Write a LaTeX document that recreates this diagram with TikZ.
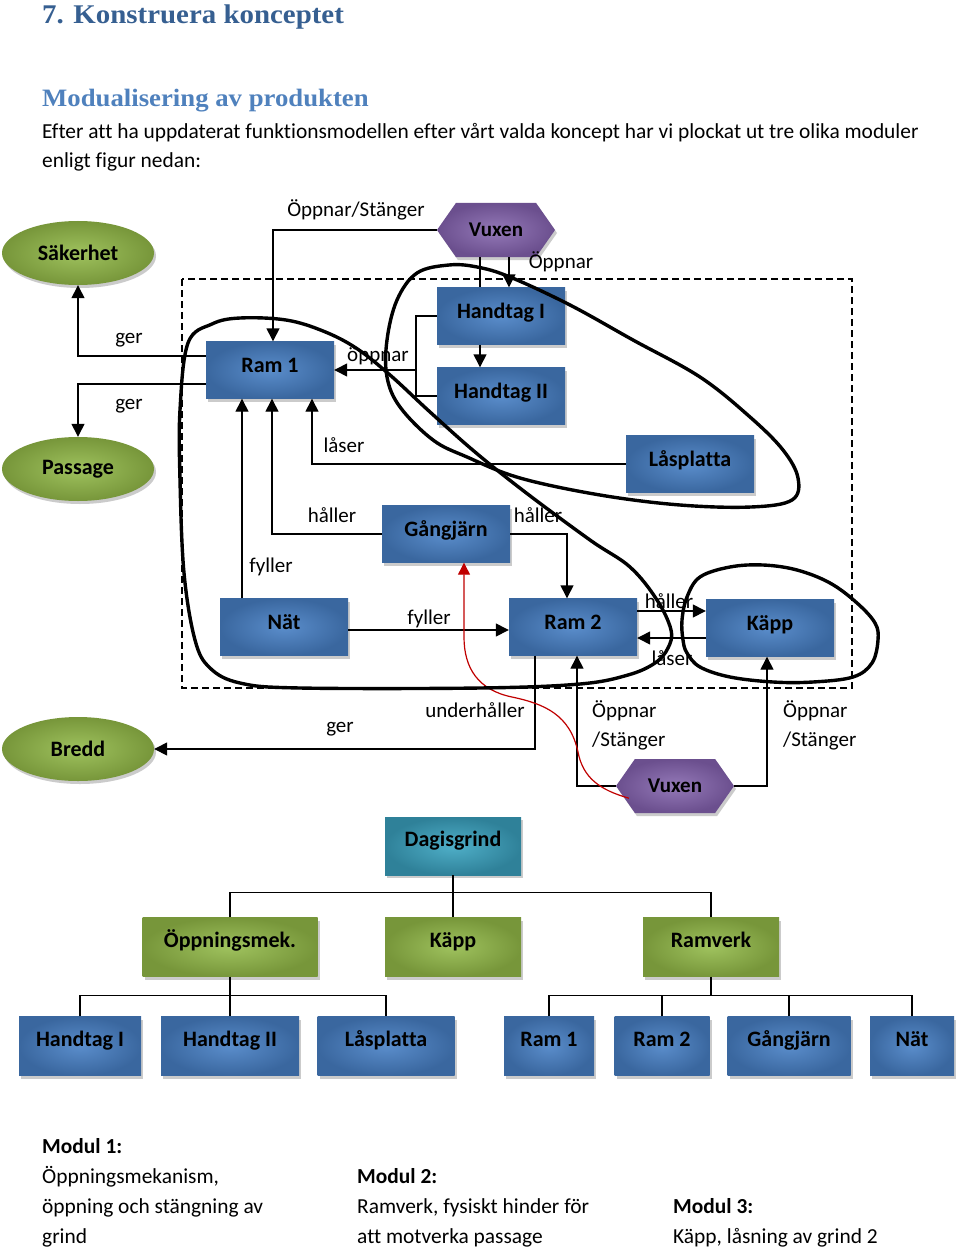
\documentclass[tikz,border=0pt]{standalone}
\usepackage{fontspec}
\setmainfont{Carlito}[Ligatures=NoCommon]
\newfontfamily\rubrikfont[FakeStretch=1.07]{Liberation Serif}
\usetikzlibrary{shapes.geometric,shapes.symbols,arrows.meta,shadows}
\definecolor{rubrikmork}{HTML}{365F91}
\definecolor{rubrikljus}{HTML}{4F81BD}
\definecolor{blaljus}{HTML}{5A8DCB}
\definecolor{blamork}{HTML}{3A679F}
\definecolor{gronljus}{HTML}{9FC25E}
\definecolor{gronmork}{HTML}{77963A}
\definecolor{lilaljus}{HTML}{9479B8}
\definecolor{lilamork}{HTML}{6B4F8E}
\definecolor{turkosljus}{HTML}{4FAFC8}
\definecolor{turkosmork}{HTML}{2F8199}
\definecolor{rodlinje}{HTML}{C00000}
\tikzstyle{skugga} = [drop shadow={shadow xshift=2pt, shadow yshift=-3pt, fill=black!45, opacity=0.45}]
\tikzstyle{ruta} = [rectangle, skugga, inner color=blaljus, outer color=blamork, minimum width=128pt, minimum height=57pt, text height=14pt, text depth=10pt, inner sep=0pt, font=\fontsize{22}{26}\selectfont\bfseries]
\tikzstyle{krav} = [ellipse, skugga, inner color=gronljus, outer color=gronmork, minimum width=152pt, minimum height=64pt, inner sep=0pt, font=\fontsize{22}{26}\selectfont\bfseries]
\tikzstyle{vuxen} = [signal, signal to=west and east, signal pointer angle=110, skugga, inner color=lilaljus, outer color=lilamork, minimum width=118pt, minimum height=54pt, inner sep=0pt, font=\fontsize{21}{26}\selectfont\bfseries]
\tikzstyle{grind} = [ruta, inner color=turkosljus, outer color=turkosmork, minimum width=136pt, minimum height=58pt, text depth=13pt]
\tikzstyle{gren} = [ruta, inner color=gronljus, outer color=gronmork, minimum height=59pt, text depth=13pt]
\tikzstyle{blad} = [ruta, minimum height=59pt, text depth=13pt]
\tikzstyle{etikett} = [inner sep=0pt, font=\fontsize{21}{25}\selectfont]
\tikzstyle{brodtext} = [anchor=base west, inner sep=0pt, font=\fontsize{21.4}{25}\selectfont]
\tikzstyle{linje} = [line width=1.4pt]
\tikzstyle{pil} = [linje, -{Triangle[length=13pt,width=13pt]}]
\tikzstyle{rodpil} = [line width=1.2pt, rodlinje, -{Triangle[length=12pt,width=12pt]}]
\tikzstyle{slinga} = [line width=3.4pt, line join=round]

\begin{document}
\begin{tikzpicture}[x=1pt,y=-1pt]
		\fill[white] (0,0) rectangle (960,1249);
		\node[anchor=base west, inner sep=0pt, text=rubrikmork, font=\rubrikfont\fontsize{27}{30}\selectfont\bfseries] (titel) at (42,24) {7. Konstruera konceptet};
		\node[anchor=base west, inner sep=0pt, text=rubrikljus, font=\rubrikfont\fontsize{25}{30}\selectfont\bfseries] (rubrik) at (42,107) {Modualisering av produkten};
		\node[brodtext] (rad1) at (42,139) {Efter att ha uppdaterat funktionsmodellen efter vårt valda koncept har vi plockat ut tre olika moduler};
		\node[brodtext] (rad2) at (42,168) {enligt figur nedan:};

		\draw[linje, dashed, dash pattern=on 7pt off 4pt] (182,279) rectangle (852,688);

		\node[krav] (sak) at (78,253) {Säkerhet};
		\node[krav] (pas) at (78,469) {Passage};
		\node[krav] (bredd) at (78,749) {Bredd};
		\node[vuxen] (vux1) at (496,230) {Vuxen};
		\node[vuxen] (vux2) at (675,786) {Vuxen};
		\node[ruta] (ram1) at (270,370) {Ram 1};
		\node[ruta] (hand1) at (501,316) {Handtag I};
		\node[ruta] (hand2) at (501,396) {Handtag II};
		\node[ruta] (las) at (690,464) {Låsplatta};
		\node[ruta] (gang) at (446,534) {Gångjärn};
		\node[ruta] (nat) at (284,627) {Nät};
		\node[ruta] (ram2) at (573,627) {Ram 2};
		\node[ruta] (kapp) at (770,628) {Käpp};

		\draw[pil] ([yshift=14pt]ram1.west) -| (sak.south);
		\draw[pil] ([yshift=-14pt]ram1.west) -| (pas.north);
		\draw[pil] (vux1.west) -| ([xshift=3pt]ram1.north);
		\draw[linje] ([xshift=-16pt]vux1.south) -- ([xshift=-21pt]hand1.north);
		\draw[pil] ([xshift=13pt]vux1.south) -- ([xshift=8pt]hand1.north);
		\draw[pil] ([xshift=-21pt]hand1.south) -- ([xshift=-21pt]hand2.north);
		\draw[linje] (hand1.west) -- ++(-21,0) coordinate (knut) |- (hand2.west);
		\draw[pil] (knut |- ram1.east) -- (ram1.east);
		\draw[pil] (las.west) -| ([xshift=42pt]ram1.south);
		\draw[pil] (gang.west) -| ([xshift=2pt]ram1.south);
		\draw[pil] ([xshift=-42pt]nat.north) -- ([xshift=-42pt]nat.north |- ram1.south);
		\draw[pil] (gang.east) -| ([xshift=-6pt]ram2.north);
		\draw[pil] ([yshift=-3pt]nat.east) -- ([yshift=-3pt]ram2.west);
		\draw[pil] ([yshift=16pt]ram2.east) -- ([yshift=16pt]ram2.east -| kapp.west);
		\draw[pil] ([yshift=-10pt]kapp.west) -- ([yshift=-10pt]kapp.west -| ram2.east);
		\draw[pil] ([xshift=-38pt]ram2.south) |- (bredd.east);
		\draw[pil] (vux2.west) -| ([xshift=4pt]ram2.south);
		\draw[pil] (vux2.east) -| ([xshift=-3pt]kapp.south);
		\draw[rodpil] ([xshift=-46pt,yshift=15pt]vux2.south) .. controls (600,790) and (583,778) .. (578,752) .. controls (570,715) and (545,704) .. (512,697) .. controls (478,690) and (464,668) .. (464,637) -- ([xshift=18pt]gang.south);

		\node[etikett] (oppnarStang) at (356,210) {Öppnar/Stänger};
		\node[etikett] (oppnarHand) at (561,262) {Öppnar};
		\node[etikett] (gerSak) at (129,340) {ger};
		\node[etikett] (gerPas) at (129,406) {ger};
		\node[etikett] (oppnarRam) at (378,356) {öppnar};
		\node[etikett] (laserRam) at (344,445) {låser};
		\node[etikett] (hallerRam1) at (332,515) {håller};
		\node[etikett] (hallerRam2) at (538,515) {håller};
		\node[etikett] (fyllerRam1) at (271,567) {fyller};
		\node[etikett] (fyllerRam2) at (429,619) {fyller};
		\node[etikett] (hallerKapp) at (669,601) {håller};
		\node[etikett] (laserKapp) at (672,658) {låser};
		\node[etikett] (gerBredd) at (340,729) {ger};
		\node[etikett] (underhaller) at (475,710) {underhåller};
		\node[etikett, anchor=west] (oppnarRam2) at (592,711) {Öppnar};
		\node[etikett, anchor=west] (stangRam2) at (592,741) {/Stänger};
		\node[etikett, anchor=west] (oppnarKapp) at (783,711) {Öppnar};
		\node[etikett, anchor=west] (stangKapp) at (783,741) {/Stänger};

		\draw[slinga] plot[smooth cycle, tension=0.6] coordinates {(180,410) (188,343) (212,324) (240,318) (286,320) (323,331) (356,348) (390,375) (430,412) (475,452) (525,492) (590,540) (630,567) (657,600) (671,630) (668,648) (655,663) (628,675) (580,684) (480,688) (300,688) (240,683) (210,668) (195,640) (184,573) (180,480)};
		\draw[slinga] plot[smooth cycle, tension=0.6] coordinates {(449,265) (477,267) (510,277) (570,305) (633,340) (700,377) (750,417) (783,450) (798,478) (792,500) (751,507) (680,505) (600,495) (520,478) (467,457) (433,440) (400,407) (387,377) (387,340) (397,300) (417,273)};
		\draw[slinga] plot[smooth cycle, tension=0.6] coordinates {(683,640) (682,620) (687,597) (700,577) (730,567) (763,565) (797,570) (830,583) (857,603) (875,623) (878,640) (872,663) (853,677) (813,682) (773,682) (730,677) (700,667) (687,653)};

		\node[grind] (dag) at (453,846) {Dagisgrind};
		\node[gren, minimum width=175pt] (oppn) at (230,947) {Öppningsmek.};
		\node[gren, minimum width=136pt] (kapp2) at (453,947) {Käpp};
		\node[gren, minimum width=136pt] (ramv) at (711,947) {Ramverk};
		\node[blad, minimum width=122pt] (hI2) at (80,1046) {Handtag I};
		\node[blad, minimum width=138pt] (hII2) at (230,1046) {Handtag II};
		\node[blad, minimum width=137pt] (las2) at (386,1046) {Låsplatta};
		\node[blad, minimum width=90pt] (r12) at (549,1046) {Ram 1};
		\node[blad, minimum width=95pt] (r22) at (662,1046) {Ram 2};
		\node[blad, minimum width=123pt] (gang2) at (789,1046) {Gångjärn};
		\node[blad, minimum width=84pt] (nat2) at (912,1046) {Nät};

		\coordinate (dagknut) at ([yshift=-17pt]dag.south);
		\coordinate (oppnknut) at ([yshift=-19pt]oppn.south);
		\coordinate (ramknut) at ([yshift=-19pt]ramv.south);
		\draw[linje] (dag.south) -- (kapp2.north);
		\draw[linje] (oppn.north) |- (dagknut) -| (ramv.north);
		\draw[linje] (oppn.south) -- (hII2.north);
		\draw[linje] (hI2.north) |- (oppnknut) -| (las2.north);
		\draw[linje] (ramv.south) -- (ramknut);
		\draw[linje] (r12.north) |- (ramknut) -| (nat2.north);
		\draw[linje] (r22.north) -- (r22.north |- ramknut);
		\draw[linje] (gang2.north) -- (gang2.north |- ramknut);

		\node[brodtext] (modul1) at (42,1153) {\textbf{Modul 1:}};
		\node[brodtext] (modul1a) at (42,1183) {Öppningsmekanism,};
		\node[brodtext] (modul1b) at (42,1213) {öppning och stängning av};
		\node[brodtext] (modul1c) at (42,1243) {grind};
		\node[brodtext] (modul2) at (357,1183) {\textbf{Modul 2:}};
		\node[brodtext] (modul2a) at (357,1213) {Ramverk, fysiskt hinder för};
		\node[brodtext] (modul2b) at (357,1243) {att motverka passage};
		\node[brodtext] (modul3) at (673,1213) {\textbf{Modul 3:}};
		\node[brodtext] (modul3a) at (673,1243) {Käpp, låsning av grind 2};
	\end{tikzpicture}
\end{document}
